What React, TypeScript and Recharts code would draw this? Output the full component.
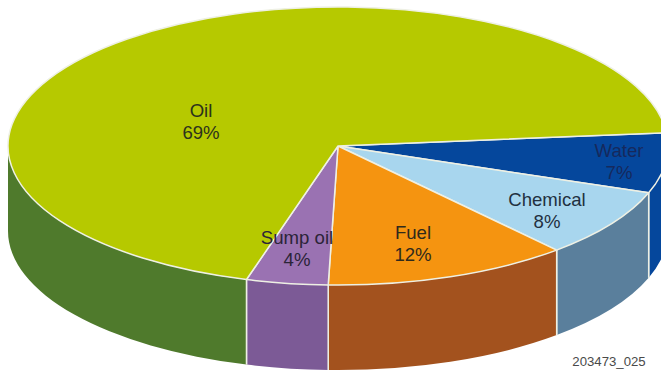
import React from "react";
import { PieChart, Pie } from "recharts";

const categories = ["Water", "Chemical", "Fuel", "Sump oil", "Oil"];
const shares = [7, 8, 12, 4, 69];
const topColors = ["#05479c", "#a8d6ee", "#f59410", "#9a72b2", "#b6c900"];
const wallColors = ["#05479c", "#5a7f9c", "#a3521e", "#7c5a96", "#4f7a2c"];
const textColors = ["#16295c", "#22303f", "#2f2a1c", "#2b2438", "#2c331c"];

const sliceData = categories.map((name, i) => ({ name, value: shares[i], fill: topColors[i] }));
const wallData = categories.map((name, i) => ({ name, value: shares[i], fill: wallColors[i] }));

const WIDTH = 661;
const HEIGHT = 372;
const CX = 338;
const CY = 146;
const RX = 330;
const SQUASH = 139 / 330; // tilt of the disc
const DEPTH = 85;
const START = 5.5;
const SEAM = "#eef0e4";

// label anchors, centre of the two-line text
const labelSpots: Record<string, [number, number]> = {
  Oil: [201, 122],
  Water: [619, 162],
  Chemical: [547, 211],
  Fuel: [413, 244],
  "Sump oil": [297, 249],
};

function edgePoint(cx: number, cy: number, r: number, deg: number) {
  const t = (deg * Math.PI) / 180;
  return [cx + r * Math.cos(t), cy + r * SQUASH * Math.sin(t)];
}

// top face of a slice, an elliptical wedge
function TopSlice(props: any) {
  const { cx, cy, outerRadius: r, startAngle, endAngle, fill } = props;
  const t0 = -startAngle;
  const t1 = -endAngle;
  const [x0, y0] = edgePoint(cx, cy, r, t0);
  const [x1, y1] = edgePoint(cx, cy, r, t1);
  const large = t1 - t0 > 180 ? 1 : 0;
  const d = `M${cx},${cy} L${x0},${y0} A${r},${r * SQUASH} 0 ${large} 1 ${x1},${y1} Z`;
  return <path d={d} fill={fill} stroke={SEAM} strokeWidth={1.5} strokeLinejoin="round" />;
}

// side wall, only the part facing the viewer (screen angles 0 to 180)
function WallSlice(props: any) {
  const { cx, cy, outerRadius: r, startAngle, endAngle, fill } = props;
  const t0 = Math.max(-startAngle, 0);
  const t1 = Math.min(-endAngle, 180);
  if (t1 <= t0) return null;
  const ry = r * SQUASH;
  const [x0, y0] = edgePoint(cx, cy, r, t0);
  const [x1, y1] = edgePoint(cx, cy, r, t1);
  const d =
    `M${x0},${y0} A${r},${ry} 0 0 1 ${x1},${y1} L${x1},${y1 + DEPTH} ` +
    `A${r},${ry} 0 0 0 ${x0},${y0 + DEPTH} Z`;
  return (
    <g>
      <path d={d} fill={fill} />
      {t0 > 0 && <line x1={x0} y1={y0} x2={x0} y2={y0 + DEPTH} stroke={SEAM} strokeWidth={1.5} />}
      {t1 < 180 && <line x1={x1} y1={y1} x2={x1} y2={y1 + DEPTH} stroke={SEAM} strokeWidth={1.5} />}
    </g>
  );
}

function sliceLabel(props: any) {
  const { name, value, index } = props;
  const [x, y] = labelSpots[name];
  return (
    <text
      x={x}
      y={y}
      textAnchor="middle"
      fill={textColors[index]}
      fontFamily="'Liberation Sans', Arial, sans-serif"
      fontSize={18.6}
    >
      <tspan x={x} dy={-5}>{name}</tspan>
      <tspan x={x} dy={22}>{value}%</tspan>
    </text>
  );
}

export default function App() {
  return (
    <div style={{ position: "absolute", left: 0, top: 0, width: WIDTH, height: HEIGHT, overflow: "hidden", background: "#fff" }}>
      <PieChart width={WIDTH} height={HEIGHT} margin={{ top: 0, right: 0, bottom: 0, left: 0 }}>
        <Pie
          data={wallData}
          dataKey="value"
          nameKey="name"
          cx={CX}
          cy={CY}
          outerRadius={RX}
          startAngle={START}
          endAngle={START - 360}
          shape={WallSlice}
          stroke="none"
          isAnimationActive={false}
        />
        <Pie
          data={sliceData}
          dataKey="value"
          nameKey="name"
          cx={CX}
          cy={CY}
          outerRadius={RX}
          startAngle={START}
          endAngle={START - 360}
          shape={TopSlice}
          label={sliceLabel}
          labelLine={false}
          isAnimationActive={false}
        />
        <text
          x={609}
          y={366}
          textAnchor="middle"
          fill="#4a4a4a"
          fontFamily="'Liberation Sans', Arial, sans-serif"
          fontSize={13.2}
        >
          203473_025
        </text>
      </PieChart>
    </div>
  );
}
